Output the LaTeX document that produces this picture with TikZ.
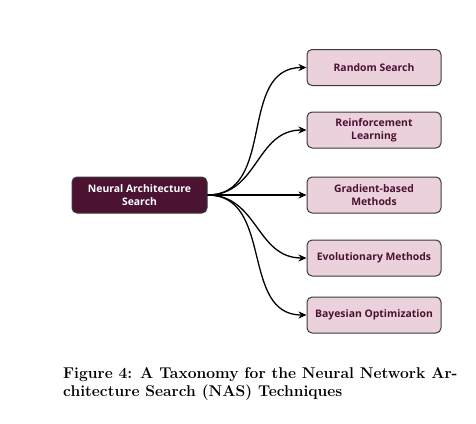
\documentclass[tikz,border=0pt]{standalone}
\usepackage{fontspec}
\newfontfamily\boxfont{Open Sans}
\usetikzlibrary{arrows.meta}
\definecolor{darkplum}{HTML}{4B1232}
\definecolor{lightplum}{HTML}{EBD1DC}
\definecolor{boxborder}{HTML}{3A3A3A}
\tikzset{
  rootbox/.style={draw=boxborder, fill=darkplum, rounded corners=5pt, line width=1pt,
    minimum width=135pt, minimum height=36pt, inner sep=2pt, align=center,
    text=white, font=\boxfont\bfseries\fontsize{10.4}{13}\selectfont},
  leafbox/.style={draw=boxborder, fill=lightplum, rounded corners=5pt, line width=1pt,
    minimum width=134pt, minimum height=36pt, inner sep=2pt, align=center,
    text=darkplum, font=\boxfont\bfseries\fontsize{10.4}{13}\selectfont},
  link/.style={line width=1.3pt, -{Stealth[length=8pt,width=7pt,inset=2.5pt]}, out=0, in=180, looseness=1.1},
}
\begin{document}
\begin{tikzpicture}[x=1pt,y=1pt]
\useasboundingbox (0,0) rectangle (476,-423);
\node[rootbox] (nas) at (139.5,-195) {Neural Architecture\\Search};
\node[leafbox] (rs) at (374,-67.5) {Random Search};
\node[leafbox] (rl) at (374,-130) {Reinforcement\\Learning};
\node[leafbox] (gb) at (374,-195) {Gradient-based\\Methods};
\node[leafbox] (em) at (374,-258) {Evolutionary Methods};
\node[leafbox] (bo) at (374,-315) {Bayesian Optimization};
\foreach \t in {rs,rl,gb,em,bo}{
  \draw[link] (nas.east) to (\t.west);
}
\node[anchor=north west, inner sep=0pt, align=left,
  font=\fontsize{15.6}{18}\selectfont\bfseries] (cap) at (63,-367)
  {Figure 4: A Taxonomy for the Neural Network Ar-\\chitecture Search (NAS) Techniques};
\end{tikzpicture}
\end{document}
